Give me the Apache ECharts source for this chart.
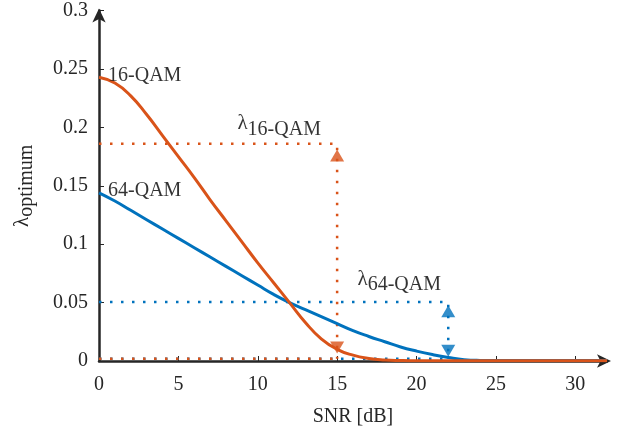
<!DOCTYPE html>
<html>
<head>
<meta charset="utf-8">
<script src="https://cdn.jsdelivr.net/npm/echarts@6/dist/echarts.min.js"></script>
<style>html,body{margin:0;padding:0;background:#fff;}#c{width:626px;height:432px;}</style>
</head>
<body>
<div id="c"></div>
<script>
// ---- data ----
var snr = [0,1,2,3,4,5,6,7,8,9,10,11,12,13,14,15,16,17,18,19,20,21,22,23,24,25,26,27,28,29,30,31,32];
var qam16 = [0.243,0.238,0.227,0.211,0.193,0.175,0.157,0.138,0.120,0.102,0.084,0.067,0.050,0.033,0.019,0.010,0.005,0.0022,0.0009,0.0004,0.0002,0.0002,0.0002,0.0002,0.0002,0.0002,0.0002,0.0002,0.0002,0.0002,0.0002,0.0002,0.0002];
var qam64 = [0.144,0.137,0.129,0.121,0.113,0.105,0.097,0.089,0.081,0.073,0.065,0.057,0.050,0.044,0.038,0.032,0.026,0.021,0.0165,0.012,0.0085,0.0055,0.003,0.0011,0.0005,0.0004,0.0004,0.0004,0.0004,0.0004,0.0004,0.0004,0.0004];
var opt16 = {snr: 15, lambda: 0.186, floor: 0.002};
var opt64 = {snr: 22, lambda: 0.0505, floor: 0.002};
var xTicks = {min: 0, max: 32, interval: 5};
var yTicks = {min: 0, max: 0.3, interval: 0.05};
var curveLabels = [
  {name: '16-QAM', x: 0.57, y: 0.244},
  {name: '64-QAM', x: 0.57, y: 0.146}
];
var lambdaLabels = [
  {sub: '16-QAM', x: 8.72, y: 0.203},
  {sub: '64-QAM', x: 16.28, y: 0.070}
];
// arrow markers [x, y, pointing]
var arrows16 = [[15, 0.176, 'up'], [15, 0.0115, 'down']];
var arrows64 = [[22, 0.0425, 'up'], [22, 0.0088, 'down']];

var ORANGE = '#D95319', BLUE = '#0072BD', AX = '#262626';
var FONT = '"Liberation Serif", "Times New Roman", serif';

function pairs(xs, ys) { return xs.map(function (x, i) { return [x, ys[i]]; }); }
var dotStyle = function (c) { return {color: c, width: 2.5, type: [2.5, 8.5]}; };

var chart = echarts.init(document.getElementById('c'), null, {renderer: 'canvas'});
var option = {
  animation: false,
  grid: {left: 99, right: 19, top: 10.6, bottom: 71},
  xAxis: {
    type: 'value', min: xTicks.min, max: xTicks.max, interval: xTicks.interval,
    name: 'SNR [dB]', nameLocation: 'middle', nameGap: 46,
    nameTextStyle: {fontFamily: FONT, fontSize: 20, color: AX},
    axisLine: {show: true, lineStyle: {color: AX, width: 2.5}, symbol: ['none', 'arrow'], symbolSize: [10, 14], symbolOffset: [0, 4]},
    axisTick: {show: true, inside: true, length: 5, lineStyle: {color: AX, width: 1}},
    axisLabel: {fontFamily: FONT, fontSize: 20, color: AX, margin: 14, showMaxLabel: false},
    splitLine: {show: false}
  },
  yAxis: {
    type: 'value', min: yTicks.min, max: yTicks.max, interval: yTicks.interval,
    name: '{l|λ}{s|optimum}', nameLocation: 'middle', nameGap: 62, nameRotate: 90,
    nameTextStyle: {rich: {
      l: {fontFamily: FONT, fontSize: 21, color: AX},
      s: {fontFamily: FONT, fontSize: 20, color: AX, padding: [10, 0, 0, 0]}
    }},
    axisLine: {show: true, lineStyle: {color: AX, width: 2.5}, symbol: ['none', 'arrow'], symbolSize: [10, 14], symbolOffset: [0, 2]},
    axisTick: {show: true, inside: true, length: 5, lineStyle: {color: AX, width: 1}},
    axisLabel: {fontFamily: FONT, fontSize: 20, color: AX, margin: 11},
    splitLine: {show: false}
  },
  series: [
    {type: 'line', data: [[0, opt64.lambda], [opt64.snr, opt64.lambda], [opt64.snr, opt64.floor]], showSymbol: false, lineStyle: dotStyle(BLUE), z: 3},
    {type: 'line', data: [[0, opt64.floor], [opt64.snr, opt64.floor]], showSymbol: false, lineStyle: dotStyle(BLUE), z: 3},
    {type: 'line', data: [[0, opt16.lambda], [opt16.snr, opt16.lambda], [opt16.snr, opt16.floor]], showSymbol: false, lineStyle: dotStyle(ORANGE), z: 3},
    {type: 'line', data: [[0, opt16.floor], [opt16.snr, opt16.floor]], showSymbol: false, lineStyle: dotStyle(ORANGE), z: 3},
    {type: 'line', name: '64-QAM', data: pairs(snr, qam64), smooth: true, showSymbol: false, lineStyle: {color: BLUE, width: 3}, z: 4},
    {type: 'line', name: '16-QAM', data: pairs(snr, qam16), smooth: true, showSymbol: false, lineStyle: {color: ORANGE, width: 3}, z: 5},
    {type: 'scatter', data: arrows16.map(function (a) { return {value: [a[0], a[1]], symbolRotate: a[2] === 'up' ? 0 : 180}; }),
      symbol: 'triangle', symbolSize: [14, 12], itemStyle: {color: ORANGE}, z: 6},
    {type: 'scatter', data: arrows64.map(function (a) { return {value: [a[0], a[1]], symbolRotate: a[2] === 'up' ? 0 : 180}; }),
      symbol: 'triangle', symbolSize: [14, 12], itemStyle: {color: BLUE}, z: 6},
    {type: 'scatter', symbolSize: 0, z: 7, silent: true,
      data: curveLabels.map(function (d) { return {value: [d.x, d.y], name: d.name}; }),
      label: {show: true, position: 'right', distance: 0, formatter: '{b}', fontFamily: FONT, fontSize: 20, color: '#000'}},
    {type: 'scatter', symbolSize: 0, z: 7, silent: true,
      data: lambdaLabels.map(function (d) { return {value: [d.x, d.y], name: d.sub}; }),
      label: {show: true, position: 'right', distance: 0, formatter: function (p) { return '{l|λ}{s|' + p.name + '}'; },
        rich: {l: {fontFamily: FONT, fontSize: 21, color: '#000'}, s: {fontFamily: FONT, fontSize: 20, color: '#000', padding: [12, 0, 0, 0]}}}}
  ]
};
chart.setOption(option);
</script>
</body>
</html>
